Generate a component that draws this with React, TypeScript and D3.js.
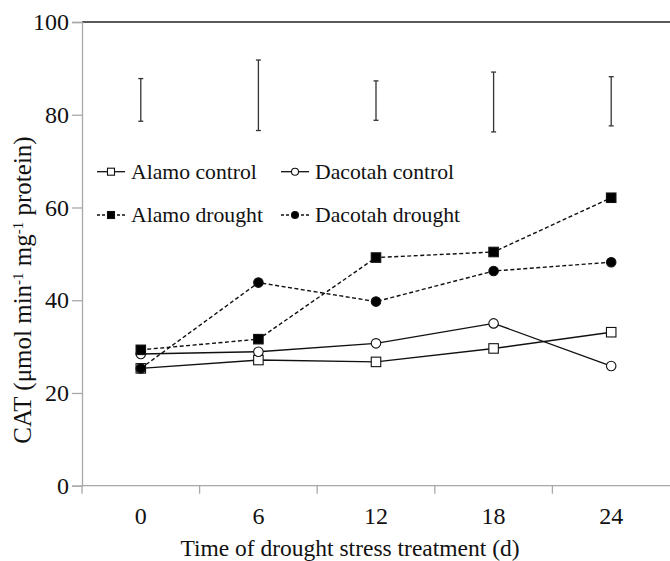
import React, { useEffect, useRef } from "react"
import * as d3 from "d3"

// Chart data
const days = ["0", "6", "12", "18", "24"]
const alamoControl = [25.3, 27.1, 26.7, 29.6, 33.1]
const dacotahControl = [28.4, 28.9, 30.7, 35.0, 25.8]
const alamoDrought = [29.3, 31.6, 49.2, 50.4, 62.1]
const dacotahDrought = [25.3, 43.8, 39.7, 46.3, 48.2]
const errorTop = [87.8, 91.8, 87.3, 89.2, 88.2]
const errorBottom = [78.6, 76.6, 78.8, 76.3, 77.6]
const yTicks = [0, 20, 40, 60, 80, 100]

const series = [
	{ name: "Alamo control", values: alamoControl, shape: "square", filled: false, dashed: false },
	{ name: "Dacotah control", values: dacotahControl, shape: "circle", filled: false, dashed: false },
	{ name: "Alamo drought", values: alamoDrought, shape: "square", filled: true, dashed: true },
	{ name: "Dacotah drought", values: dacotahDrought, shape: "circle", filled: true, dashed: true },
]

const width = 670
const height = 561
const font = "Liberation Serif"

const App = () => {
	const ref = useRef<SVGSVGElement>(null)

	useEffect(() => {
		const marginTop = 22
		const marginLeft = 82
		const marginRight = 0
		const bottomY = 485.7

		const x = d3
			.scaleBand()
			.domain(days)
			.range([marginLeft, width - marginRight])

		const y = d3.scaleLinear().domain([0, 100]).range([bottomY, marginTop])

		const svg = d3.select(ref.current)
		svg.selectAll("*").remove()

		const cx = (i: number) => (x(days[i]) as number) + x.bandwidth() / 2

		// Top border
		svg
			.append("line")
			.attr("x1", marginLeft)
			.attr("x2", width)
			.attr("y1", y(100))
			.attr("y2", y(100))
			.style("stroke", "#222")
			.style("stroke-width", 1.4)

		// y axis
		const yAxis = d3
			.axisLeft(y)
			.tickValues(yTicks)
			.tickSize(10)
			.tickPadding(3)

		const gy = svg
			.append("g")
			.attr("transform", `translate(${marginLeft}, 0)`)
			.call(yAxis)
			.attr("font-family", font)
			.attr("font-size", 24)
		gy.select(".domain").style("stroke", "#a8a8a8").style("stroke-width", 1.3)
		gy.selectAll(".tick line").style("stroke", "#a8a8a8").style("stroke-width", 1.3)
		gy.selectAll("text").style("fill", "#111")

		// x axis: ticks at band edges
		const xEdge = d3
			.scaleLinear()
			.domain([0, days.length])
			.range([marginLeft, width - marginRight])
		const gx = svg
			.append("g")
			.attr("transform", `translate(0, ${bottomY})`)
			.attr("font-family", font)
			.attr("font-size", 24)
		gx.append("line")
			.attr("x1", marginLeft)
			.attr("x2", width)
			.style("stroke", "#a8a8a8")
			.style("stroke-width", 1.3)
		gx.selectAll(".edge")
			.data(d3.range(days.length))
			.join("line")
			.attr("class", "edge")
			.attr("x1", d => xEdge(d))
			.attr("x2", d => xEdge(d))
			.attr("y1", 0)
			.attr("y2", 8)
			.style("stroke", "#a8a8a8")
			.style("stroke-width", 1.3)
		gx.selectAll(".lab")
			.data(days)
			.join("text")
			.attr("class", "lab")
			.attr("x", (d, i) => cx(i))
			.attr("y", 38)
			.attr("text-anchor", "middle")
			.style("fill", "#111")
			.text(d => d)

		// axis titles
		svg
			.append("text")
			.attr("x", 350)
			.attr("y", 556)
			.attr("text-anchor", "middle")
			.attr("font-family", font)
			.attr("font-size", 23.5)
			.style("fill", "#111")
			.text("Time of drought stress treatment (d)")

		const yl = svg
			.append("text")
			.attr("transform", `translate(31, 290) rotate(-90)`)
			.attr("text-anchor", "middle")
			.attr("font-family", font)
			.attr("font-size", 25)
			.style("fill", "#111")
		yl.append("tspan").text("CAT (μmol min")
		yl.append("tspan").attr("dy", -8).attr("font-size", 15).text("-1")
		yl.append("tspan").attr("dy", 8).text(" mg")
		yl.append("tspan").attr("dy", -8).attr("font-size", 15).text("-1")
		yl.append("tspan").attr("dy", 8).text(" protein)")

		// error bars
		const eb = svg
			.selectAll(".err")
			.data(days)
			.join("g")
			.attr("class", "err")
			.style("stroke", "#333")
			.style("stroke-width", 1.3)
		eb.append("line")
			.attr("x1", (d, i) => cx(i))
			.attr("x2", (d, i) => cx(i))
			.attr("y1", (d, i) => y(errorTop[i]))
			.attr("y2", (d, i) => y(errorBottom[i]))
		eb.append("line")
			.attr("x1", (d, i) => cx(i) - 2.5)
			.attr("x2", (d, i) => cx(i) + 2.5)
			.attr("y1", (d, i) => y(errorTop[i]))
			.attr("y2", (d, i) => y(errorTop[i]))
		eb.append("line")
			.attr("x1", (d, i) => cx(i) - 2.5)
			.attr("x2", (d, i) => cx(i) + 2.5)
			.attr("y1", (d, i) => y(errorBottom[i]))
			.attr("y2", (d, i) => y(errorBottom[i]))

		const drawMarker = (g, s, px: number, py: number, size: number) => {
			if (s.shape === "square") {
				g.append("rect")
					.attr("x", px - size / 2)
					.attr("y", py - size / 2)
					.attr("width", size)
					.attr("height", size)
					.style("fill", s.filled ? "#000" : "#fff")
					.style("stroke", "#111")
					.style("stroke-width", 1.1)
			} else {
				g.append("circle")
					.attr("cx", px)
					.attr("cy", py)
					.attr("r", size / 2)
					.style("fill", s.filled ? "#000" : "#fff")
					.style("stroke", "#111")
					.style("stroke-width", 1.1)
			}
		}

		const line = d3
			.line<number>()
			.x((d, i) => cx(i))
			.y(d => y(d))

		// lines first, markers on top
		series.forEach(s => {
			svg
				.append("path")
				.attr("d", line(s.values))
				.style("fill", "none")
				.style("stroke", "#111")
				.style("stroke-width", 1.4)
				.style("stroke-dasharray", s.dashed ? "4,2.5" : null)
		})
		series.forEach(s => {
			const g = svg.append("g")
			s.values.forEach((v, i) => drawMarker(g, s, cx(i), y(v), 9.5))
		})

		// legend
		const legendPos = [
			[111, 171.7],
			[295, 171.7],
			[111, 215],
			[295, 215],
		]
		series.forEach((s, i) => {
			const [lx, ly] = legendPos[i]
			const g = svg.append("g")
			g.append("line")
				.attr("x1", lx - 14)
				.attr("x2", lx + 14)
				.attr("y1", ly)
				.attr("y2", ly)
				.style("stroke", "#111")
				.style("stroke-width", 1.3)
				.style("stroke-dasharray", s.dashed ? "3,2" : null)
			drawMarker(g, s, lx, ly, 7)
			g.append("text")
				.attr("x", lx + 20)
				.attr("y", ly)
				.attr("dy", "0.33em")
				.attr("font-family", font)
				.attr("font-size", 21.7)
				.style("fill", "#111")
				.text(s.name)
		})
	}, [])

	return (
		<>
			<style>{`body { margin: 0; }`}</style>
			<svg ref={ref} width={width} height={height} style={{ display: "block", background: "#fff" }}></svg>
		</>
	)
}

export default App
